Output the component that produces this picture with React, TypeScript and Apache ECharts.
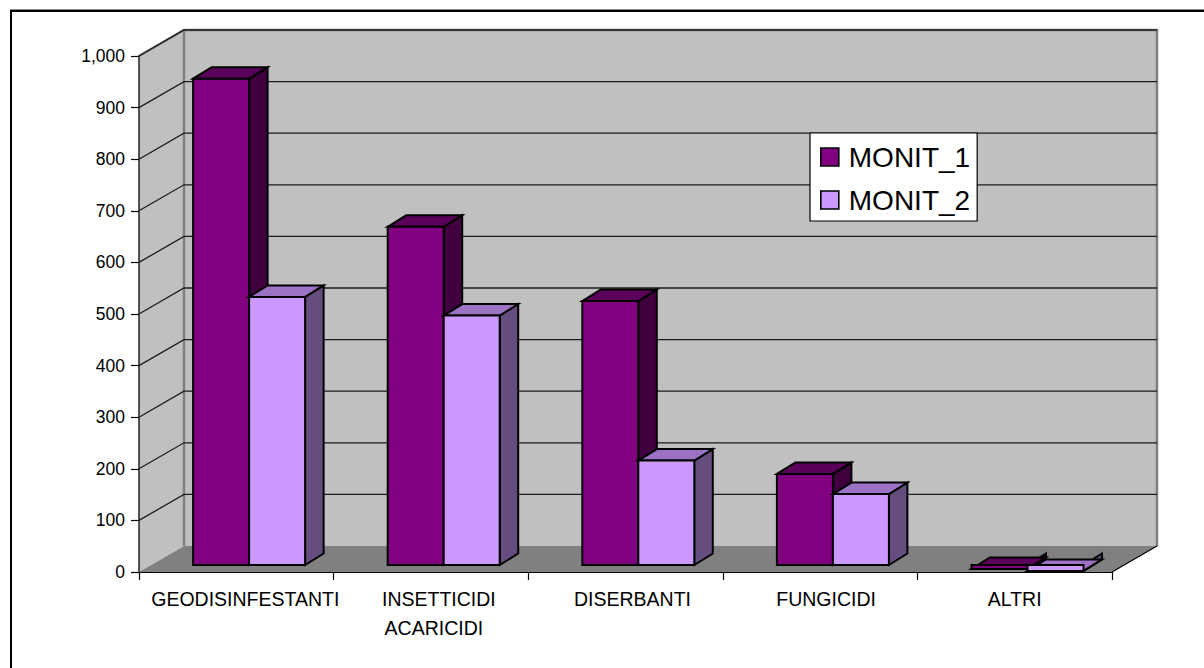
import React, { useEffect, useRef } from "react";
import * as echarts from "echarts";

const FONT = "'Liberation Sans', Arial, sans-serif";

const categories = ["GEODISINFESTANTI", "INSETTICIDI ACARICIDI", "DISERBANTI", "FUNGICIDI", "ALTRI"];
const labelLines = [["GEODISINFESTANTI"], ["INSETTICIDI", "ACARICIDI"], ["DISERBANTI"], ["FUNGICIDI"], ["ALTRI"]];
const monit1 = [956, 669, 525, 190, 6];
const monit2 = [533, 497, 216, 151, 2];
const yTicks = [100, 200, 300, 400, 500, 600, 700, 800, 900, 1000];

// Projection of the 3D box on screen
const WALL_DX = 45;
const WALL_DY = -26;
const BAR_INSET_DX = 12;
const BAR_INSET_DY = -7;
const BAR_DX = 18.5;
const BAR_DY = -11.5;
const BAR_W = 56;
const LABEL_NUDGE = [9, 8, 7, 6, 0];
const LINE_NUDGE = [0, -5];

const WALL = "#C0C0C0";
const FLOOR = "#808080";
const EDGE = "#808080";

function poly(points: number[][], fill: string, z2 = 0) {
  return {
    type: "polygon",
    z2,
    shape: { points },
    style: { fill, stroke: "#000", lineWidth: 2, lineJoin: "miter" },
  };
}

function barRenderer(slot: number, front: string, top: string, side: string) {
  return (_params: any, api: any) => {
    const idx = api.value(0);
    const [cx, y0] = api.coord([idx, 0]);
    const [, y1] = api.coord([idx, api.value(1)]);
    const x0 = cx - 43.2 + slot * BAR_W;
    const x1 = x0 + BAR_W;
    const base = y0 + BAR_INSET_DY;
    const head = y1;
    return {
      type: "group",
      children: [
        poly([[x1, base], [x1 + BAR_DX, base + BAR_DY], [x1 + BAR_DX, head + BAR_DY], [x1, head]], side),
        poly([[x0, head], [x0 + BAR_DX, head + BAR_DY], [x1 + BAR_DX, head + BAR_DY], [x1, head]], top),
        poly([[x0, base], [x1, base], [x1, head], [x0, head]], front),
      ],
    };
  };
}

function wallRenderer(params: any) {
  const { x, y, width, height } = params.coordSys;
  const l = x, r = x + width, t = y, b = y + height;
  const edge = { stroke: EDGE, lineWidth: 2.5, fill: "none" };
  return {
    type: "group",
    children: [
      { type: "polygon", shape: { points: [[l, t], [l + WALL_DX, t + WALL_DY], [l + WALL_DX, b + WALL_DY], [l, b]] }, style: { fill: WALL } },
      { type: "polygon", shape: { points: [[l + WALL_DX, t + WALL_DY], [r + WALL_DX, t + WALL_DY], [r + WALL_DX, b + WALL_DY], [l + WALL_DX, b + WALL_DY]] }, style: { fill: WALL } },
      { type: "polygon", shape: { points: [[l, b], [l + WALL_DX, b + WALL_DY], [r + WALL_DX, b + WALL_DY], [r, b]] }, style: { fill: FLOOR } },
      { type: "polyline", shape: { points: [[l, t], [l + WALL_DX, t + WALL_DY], [r + WALL_DX, t + WALL_DY], [r + WALL_DX, b + WALL_DY]] }, style: edge },
      { type: "line", shape: { x1: l + WALL_DX, y1: t + WALL_DY, x2: l + WALL_DX, y2: b + WALL_DY }, style: edge },
      { type: "line", shape: { x1: r, y1: b, x2: r + WALL_DX, y2: b + WALL_DY }, style: { stroke: "#000", lineWidth: 1.2 } },
    ],
  };
}

function gridRenderer(params: any, api: any) {
  const { x, width } = params.coordSys;
  const y = api.coord([0, api.value(1)])[1];
  return {
    type: "polyline",
    shape: {
      points: [[x, y], [x + WALL_DX, y + WALL_DY], [x + width + WALL_DX, y + WALL_DY]],
    },
    style: { stroke: "#1c1c1c", lineWidth: 1.3, fill: "none" },
  };
}

function labelRenderer(_params: any, api: any) {
  const idx = api.value(0);
  const [cx, y0] = api.coord([idx, 0]);
  return {
    type: "group",
    children: labelLines[idx].map((line, i) => ({
      type: "text",
      x: cx + LABEL_NUDGE[idx] + LINE_NUDGE[i],
      y: y0 + 27 + i * 29,
      style: {
        text: line,
        fill: "#000",
        font: `19.5px ${FONT}`,
        align: "center",
        verticalAlign: "middle",
      },
    })),
  };
}

export default function App() {
  const ref = useRef<HTMLDivElement>(null);

  useEffect(() => {
    document.body.style.margin = "0";
    const chart = echarts.init(ref.current!, undefined, { renderer: "svg" });
    chart.setOption({
      animation: false,
      backgroundColor: "#fff",
      grid: { left: 139, right: 92, top: 56, bottom: 96, containLabel: false },
      xAxis: {
        type: "category",
        data: categories,
        z: 5,
        axisLine: { show: true, lineStyle: { color: "#000", width: 1.2 } },
        axisTick: { show: true, length: 8, lineStyle: { color: "#000", width: 1.2 } },
        axisLabel: { show: false },
        splitLine: { show: false },
      },
      yAxis: {
        type: "value",
        min: 0,
        max: 1000,
        interval: 100,
        z: 5,
        axisLine: { show: true, lineStyle: { color: "#222", width: 1.5 } },
        axisTick: { show: true, length: 8, lineStyle: { color: "#000", width: 1.2 } },
        axisLabel: { color: "#000", fontFamily: FONT, fontSize: 17.5, margin: 14 },
        splitLine: { show: false },
      },
      legend: {
        orient: "vertical",
        left: 810,
        top: 133,
        z: 10,
        padding: [10, 7, 7, 10],
        data: ["MONIT_1", "MONIT_2"],
        icon: "rect",
        itemWidth: 18,
        itemHeight: 18,
        itemGap: 15,
        backgroundColor: "#fff",
        borderColor: "#000",
        borderWidth: 1.2,
        itemStyle: { borderColor: "#000", borderWidth: 1.6 },
        textStyle: { color: "#000", fontFamily: FONT, fontSize: 28, padding: [0, 0, 0, 5] },
      },
      graphic: [
        { type: "line", silent: true, shape: { x1: 10, y1: 9.5, x2: 1204, y2: 9.5 }, style: { stroke: "#888", lineWidth: 1 } },
        { type: "line", silent: true, shape: { x1: 10, y1: 11, x2: 1204, y2: 11 }, style: { stroke: "#000", lineWidth: 2 } },
        { type: "line", silent: true, shape: { x1: 11, y1: 10, x2: 11, y2: 668 }, style: { stroke: "#000", lineWidth: 2 } },
      ],
      series: [
        { name: "walls", type: "custom", silent: true, z: 1, data: [[0, 0]], renderItem: wallRenderer },
        { name: "gridlines", type: "custom", silent: true, z: 2, data: yTicks.map((t) => [0, t]), renderItem: gridRenderer },
        { name: "labels", type: "custom", silent: true, z: 3, data: categories.map((_, i) => [i, 0]), renderItem: labelRenderer },
        {
          name: "MONIT_1",
          type: "custom",
          z: 6,
          itemStyle: { color: "#800080" },
          data: monit1.map((v, i) => [i, v]),
          renderItem: barRenderer(0, "#800080", "#5A005A", "#400040"),
        },
        {
          name: "MONIT_2",
          type: "custom",
          z: 7,
          itemStyle: { color: "#CC99FF" },
          data: monit2.map((v, i) => [i, v]),
          renderItem: barRenderer(1, "#CC99FF", "#9C72C4", "#664D80"),
        },
      ],
    });
    return () => chart.dispose();
  }, []);

  return <div ref={ref} style={{ width: 1204, height: 668 }} />;
}
